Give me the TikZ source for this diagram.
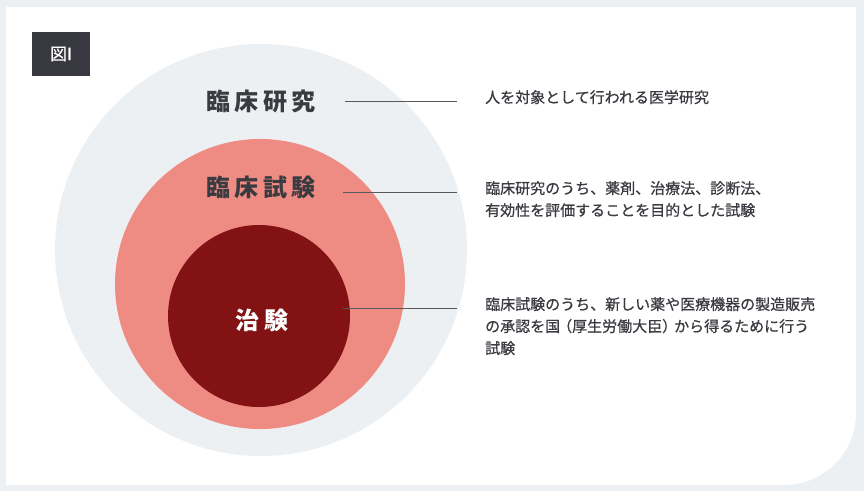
\documentclass[tikz,border=0pt]{standalone}
\usepackage{fontspec}
\usepackage{tikz}
\usetikzlibrary{positioning}
\newfontfamily\jp[FakeBold=0.6]{Noto Sans CJK JP}
\newfontfamily\jplabel[LetterSpace=18]{Noto Sans CJK JP}
\definecolor{panelgrey}{HTML}{EDF0F3}
\definecolor{trialpink}{HTML}{EE8B83}
\definecolor{chikenred}{HTML}{821213}
\definecolor{inkgrey}{HTML}{3A3B40}
\definecolor{tagdark}{HTML}{383840}

\begin{document}
\begin{tikzpicture}[x=1pt,y=-1pt,% image coordinates, y runs downward
		every node/.style={inner sep=0pt},
		ring/.style={circle,minimum size=#1,draw=none},
		biglabel/.style={font=\jplabel\bfseries\fontsize{24}{28}\selectfont,text=inkgrey},
		desc/.style={font=\jp\fontsize{15}{22}\selectfont,text=inkgrey,align=left,anchor=north west},
		leader/.style={draw=inkgrey!85,line width=0.9pt,shorten >=28pt}
	]
	% background and panel
	\fill[panelgrey] (0,0) rectangle (864,491);
	\fill[white] (6,7) -- (856,7) [rounded corners=72pt] -- (856,485) [rounded corners=0pt] -- (6,485) -- cycle;
	\node[fill=tagdark,minimum width=58pt,minimum height=44pt,text=white,font=\jp\fontsize{17}{19}\selectfont](tag) at (61,54){図I};
	% nested circles
	\node[ring=412pt,fill=panelgrey](research) at (261,250){};
	\node[ring=290pt,fill=trialpink](trial) at (260,284){};
	\node[ring=182pt,fill=chikenred](chiken) at (259,316){};
	% circle labels
	\node[biglabel](Lresearch) at (261,101){臨床研究};
	\node[biglabel](Ltrial) at (261,187){臨床試験};
	\node[biglabel,text=white](Lchiken) at (262,320){治験};
	% descriptions
	\node[desc](Dresearch) at (485,90){人を対象として行われる医学研究};
	\node[desc](Dtrial) at (485,181){臨床研究のうち、薬剤、治療法、診断法、\\有効性を評価することを目的とした試験};
	\node[desc](Dchiken) at (485,297){臨床試験のうち、新しい薬や医療機器の製造販売\\の承認を国\kern-3pt（厚生労働大臣）\kern-3pt から得るために行う\\試験};
	% leaders
	\coordinate (Presearch) at (345,101);
	\coordinate (Ptrial) at (343,192);
	\coordinate (Pchiken) at (343,308);
	\draw[leader] (Presearch) -- (Presearch -| Dresearch.west);
	\draw[leader] (Ptrial) -- (Ptrial -| Dtrial.west);
	\draw[leader] (Pchiken) -- (Pchiken -| Dchiken.west);
\end{tikzpicture}
\end{document}
